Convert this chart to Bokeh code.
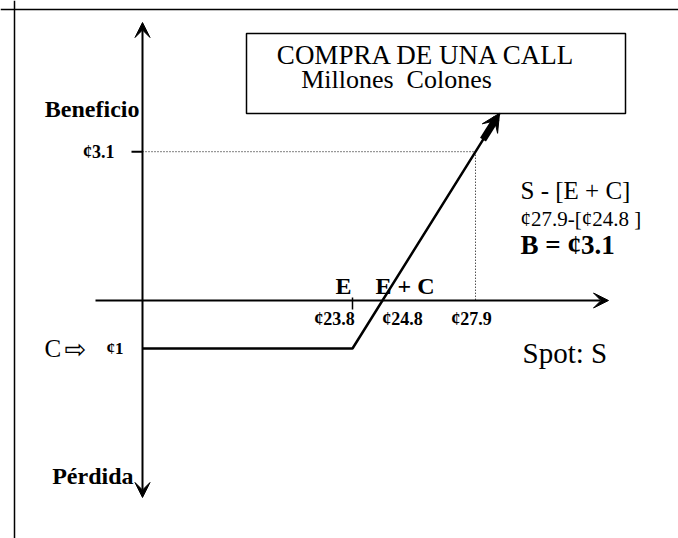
from bokeh.plotting import figure
from bokeh.models import Range1d, Span, Arrow, VeeHead
from bokeh.core.properties import value
from bokeh.embed import file_html
from bokeh.resources import INLINE

# ---- values (millions of colones) ----
strike = 23.8          # E
premium = 1.0          # C
breakeven = 24.8       # E + C
spot = 27.9            # S
profit = 3.1           # B = S - (E + C)
payoff_spot = [23.8, 28.7]     # kink and end of the payoff arrow
payoff_value = [-1.0, 3.9]

title_lines = ["COMPRA DE UNA CALL", "Millones\u00a0\u00a0Colones"]
x_tick_labels = ["¢23.8", "¢24.8", "¢27.9"]

# ---- layout helpers (page pixel -> data) ----
W, H = 678, 538
AX, AY = 30.0, 48.0          # px per unit
X_BE_PAGE, Y_ZERO_PAGE = 382, 300


def dx(px):
    return breakeven + (px - X_BE_PAGE) / AX


def dy(py):
    return (Y_ZERO_PAGE - py) / AY


def px_of(x):
    return X_BE_PAGE + (x - breakeven) * AX


p = figure(width=W, height=H, x_range=Range1d(dx(0), dx(W)),
           y_range=Range1d(dy(H), dy(0)), output_backend="svg",
           toolbar_location=None, x_axis_type=None, y_axis_type=None, min_border=0)
p.grid.visible = False
p.outline_line_color = None
p.background_fill_color = "white"

SERIF = value("Liberation Serif")

# frame (top and left only)
p.add_layout(Span(location=dx(14), dimension="height", line_color="black", line_width=1.5))
p.add_layout(Span(location=dy(9), dimension="width", line_color="black", line_width=1.5))

y_axis_x = dx(142)
# axes
p.add_layout(Arrow(start=VeeHead(size=15, fill_color="black", line_color="black"),
                   end=VeeHead(size=15, fill_color="black", line_color="black"),
                   x_start=y_axis_x, y_start=dy(497), x_end=y_axis_x, y_end=dy(22),
                   line_width=2, line_color="black"))
p.add_layout(Arrow(end=VeeHead(size=15, fill_color="black", line_color="black"),
                   x_start=dx(95), y_start=0, x_end=dx(608), y_end=0,
                   line_width=2, line_color="black"))

# ticks
p.segment(x0=[strike], y0=[dy(Y_ZERO_PAGE - 3)], x1=[strike], y1=[dy(Y_ZERO_PAGE + 9)],
          line_color="black", line_width=1.5)
p.segment(x0=[dx(131)], y0=[profit], x1=[y_axis_x], y1=[profit], line_color="black", line_width=2)

# dotted guides
p.line([y_axis_x, spot], [profit, profit], line_dash="1 2", line_color="black", line_width=1)
p.line([spot, spot], [profit, 0], line_dash="1 2", line_color="black", line_width=1)

# payoff line
xs = [y_axis_x] + payoff_spot
ys = [-premium] + [payoff_value[0]] + payoff_value[1:]
p.line(xs, ys, line_color="black", line_width=2.5)
# thick end of the payoff arrow
tail = payoff_spot[1] - 0.55
p.line([tail, payoff_spot[1] - 0.1], [tail - breakeven, payoff_value[1] - 0.1],
       line_color="black", line_width=7)
p.add_layout(Arrow(end=VeeHead(size=18, fill_color="black", line_color="black"),
                   x_start=tail, y_start=tail - breakeven,
                   x_end=payoff_spot[1], y_end=payoff_value[1],
                   line_width=3, line_color="black"))

# title box
p.quad(left=[dx(246)], right=[dx(625)], top=[dy(33)], bottom=[dy(113)],
       fill_color="white", line_color="black", line_width=1.5)
p.text(x=[dx(426)], y=[dy(54)], text=[title_lines[0]], text_font=SERIF,
       text_font_size="27px", text_align="center", text_baseline="middle", text_color="black")
p.text(x=[dx(396)], y=[dy(79)], text=[title_lines[1]], text_font=SERIF,
       text_font_size="26px", text_align="center", text_baseline="middle", text_color="black")

# axis words
p.text(x=[dx(139)], y=[dy(108)], text=["Beneficio"], text_font=SERIF, text_font_size="24px",
       text_font_style="bold", text_align="right", text_baseline="middle", text_color="black")
p.text(x=[dx(133)], y=[dy(475)], text=["Pérdida"], text_font=SERIF, text_font_size="24px",
       text_font_style="bold", text_align="right", text_baseline="middle", text_color="black")

# y labels
p.text(x=[dx(114)], y=[profit], text=[f"¢{profit}"], text_font=SERIF, text_font_size="18px",
       text_font_style="bold", text_align="right", text_baseline="middle", text_color="black")
p.text(x=[dx(44)], y=[-premium], text=["C"], text_font=SERIF, text_font_size="25px",
       text_align="left", text_baseline="middle", text_color="black")
p.text(x=[dx(64)], y=[-premium], text=["⇨"], text_font=value("DejaVu Sans"), text_font_size="26px",
       text_align="left", text_baseline="middle", text_color="black")
p.text(x=[dx(106)], y=[-premium], text=[f"¢{premium:.0f}"], text_font=SERIF, text_font_size="17px",
       text_font_style="bold", text_align="left", text_baseline="middle", text_color="black")

# x labels (placed beside their ticks, as in the sketch)
label_x = [dx(px_of(strike) - 18), dx(px_of(breakeven) + 20), dx(px_of(spot) - 4)]
p.text(x=label_x, y=[dy(Y_ZERO_PAGE + 18)] * 3, text=x_tick_labels, text_font=SERIF,
       text_font_size="18px", text_font_style="bold", text_align="center",
       text_baseline="middle", text_color="black")
p.text(x=[dx(px_of(strike) - 9)], y=[dy(Y_ZERO_PAGE - 15)], text=["E"], text_font=SERIF,
       text_font_size="24px", text_font_style="bold", text_align="center",
       text_baseline="middle", text_color="black")
p.text(x=[dx(px_of(breakeven) - 7)], y=[dy(Y_ZERO_PAGE - 15)], text=["E + C"], text_font=SERIF,
       text_font_size="24px", text_font_style="bold", text_align="left",
       text_baseline="middle", text_color="black")

# right-side explanation
p.text(x=[dx(520)], y=[dy(190)], text=["S - [E + C]"], text_font=SERIF, text_font_size="25px",
       text_align="left", text_baseline="middle", text_color="black")
p.text(x=[dx(520)], y=[dy(218)], text=[f"¢{spot}-[¢{breakeven}\u00a0]"], text_font=SERIF,
       text_font_size="21px", text_align="left", text_baseline="middle", text_color="black")
p.text(x=[dx(520)], y=[dy(244)], text=[f"B = ¢{profit}"], text_font=SERIF, text_font_size="27px",
       text_font_style="bold", text_align="left", text_baseline="middle", text_color="black")
p.text(x=[dx(522)], y=[dy(352)], text=["Spot: S"], text_font=SERIF, text_font_size="29px",
       text_align="left", text_baseline="middle", text_color="black")

open("out.html", "w").write(file_html(p, INLINE))
